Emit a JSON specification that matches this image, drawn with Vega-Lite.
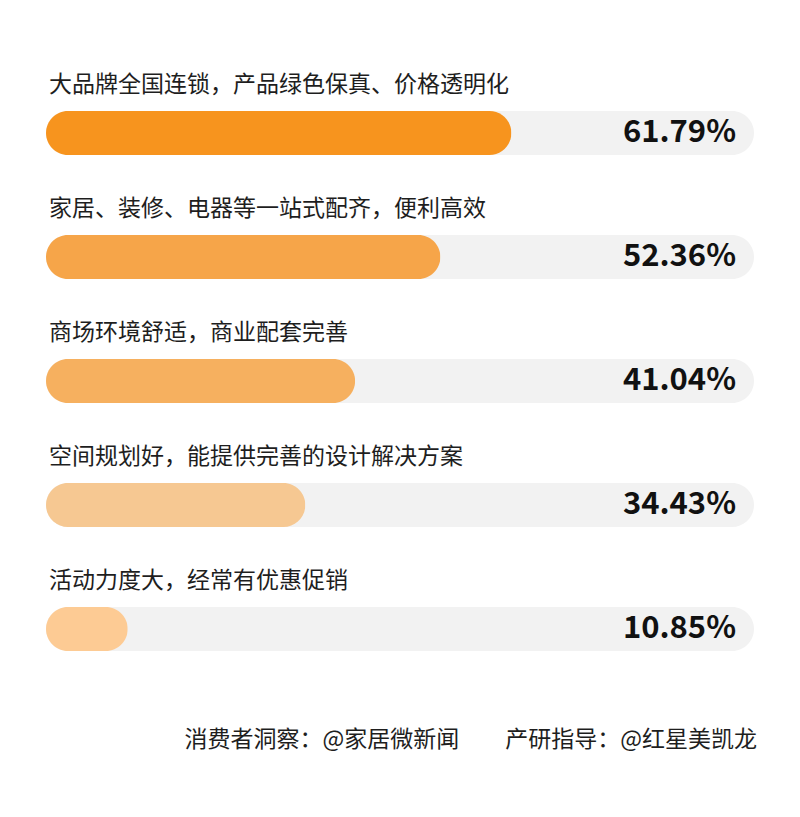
{
  "$schema": "https://vega.github.io/schema/vega-lite/v6.json",
  "width": 708,
  "height": 700,
  "autosize": "none",
  "padding": {"left": 46, "top": 0, "right": 46, "bottom": 117},
  "background": "#ffffff",
  "config": {
    "view": {"stroke": null},
    "font": "Noto Sans CJK SC"
  },
  "title": {
    "text": "消费者洞察：@家居微新闻　　产研指导：@红星美凯龙",
    "orient": "bottom",
    "anchor": "end",
    "offset": 29,
    "dx": 3,
    "fontSize": 23,
    "fontWeight": "normal",
    "color": "#1e1e1e",
    "font": "Noto Sans CJK SC"
  },
  "data": {
    "values": [
      {"item": "大品牌全国连锁，产品绿色保真、价格透明化", "share": 0.6179},
      {"item": "家居、装修、电器等一站式配齐，便利高效", "share": 0.5236},
      {"item": "商场环境舒适，商业配套完善", "share": 0.4104},
      {"item": "空间规划好，能提供完善的设计解决方案", "share": 0.3443},
      {"item": "活动力度大，经常有优惠促销", "share": 0.1085}
    ]
  },
  "encoding": {
    "y": {
      "field": "item",
      "type": "nominal",
      "sort": null,
      "axis": null,
      "scale": {"paddingInner": 0.645, "paddingOuter": 0.645, "align": 0.694}
    }
  },
  "layer": [
    {
      "mark": {"type": "bar", "color": "#f2f2f2", "cornerRadius": 22},
      "encoding": {
        "x": {"datum": 0, "type": "quantitative", "scale": {"domain": [0, 0.94], "nice": false}, "axis": null},
        "x2": {"datum": 0.94}
      }
    },
    {
      "mark": {"type": "bar", "cornerRadius": 22},
      "encoding": {
        "x": {"field": "share", "type": "quantitative", "scale": {"domain": [0, 0.94], "nice": false}, "axis": null},
        "color": {
          "field": "item",
          "type": "nominal",
          "sort": null,
          "legend": null,
          "scale": {"range": ["#f7941e", "#f6a549", "#f6b05f", "#f6c892", "#fdcb94"]}
        }
      }
    },
    {
      "mark": {"type": "text", "align": "left", "baseline": "middle", "dx": 3, "yOffset": -48, "fontSize": 23, "color": "#1e1e1e"},
      "encoding": {
        "x": {"datum": 0, "type": "quantitative"},
        "text": {"field": "item"}
      }
    },
    {
      "mark": {"type": "text", "align": "right", "baseline": "middle", "dx": -18, "fontSize": 31, "fontWeight": "bold", "color": "#111111"},
      "encoding": {
        "x": {"datum": 0.94, "type": "quantitative"},
        "text": {"field": "share", "format": ".2%"}
      }
    }
  ]
}
